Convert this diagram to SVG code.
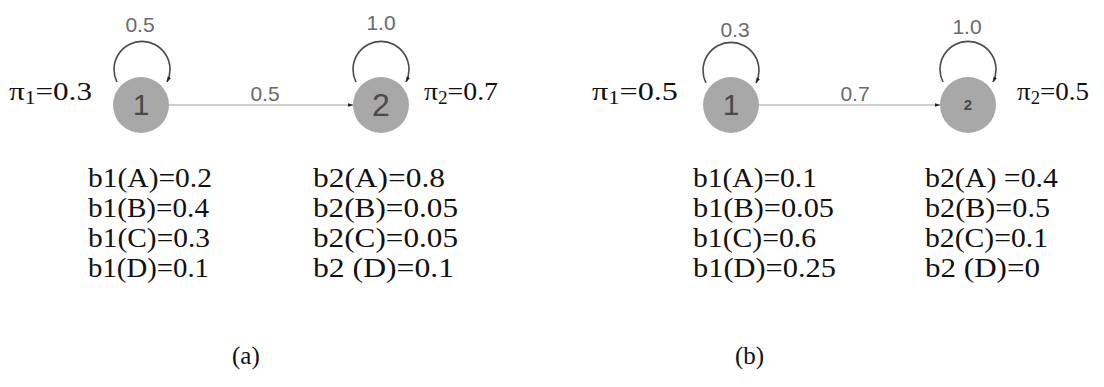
<svg xmlns="http://www.w3.org/2000/svg" width="1104" height="387" viewBox="0 0 1104 387">
<style>
.node{fill:#a8a8a8;}
.nlab{font-family:"Liberation Sans",sans-serif;fill:#4a4a4a;text-anchor:middle;}
.elab{font-family:"Liberation Sans",sans-serif;font-size:21px;fill:#6a6a6a;text-anchor:middle;}
.edge{fill:none;stroke:#cfcfcf;stroke-width:2;}
.loop{fill:none;stroke:#4a4a4a;stroke-width:1.6;}
.pi{font-family:"Liberation Serif",serif;font-size:26px;fill:#111;}
.bt{font-family:"Liberation Serif",serif;font-size:27px;fill:#111;}
.cap{font-family:"Liberation Serif",serif;font-size:25px;fill:#111;}
</style>
<defs>
<marker id="ah" viewBox="0 0 10 10" refX="9" refY="5" markerWidth="6" markerHeight="6" markerUnits="userSpaceOnUse" orient="auto">
<path d="M0,2 L10,5 L0,8 z" fill="#222"/>
</marker>
</defs>
<rect width="1104" height="387" fill="#fff"/>
<g id="connectors">
<path class="edge" d="M169,105 L353,105" marker-end="url(#ah)"/>
<path class="loop" d="M117,82 A28,28 0 1,1 167,82" marker-end="url(#ah)"/>
<path class="loop" d="M356,82 A28,28 0 1,1 406,82" marker-end="url(#ah)"/>
<path class="edge" d="M759,105 L940,105" marker-end="url(#ah)"/>
<path class="loop" d="M706,83 A28,28 0 1,1 756,83" marker-end="url(#ah)"/>
<path class="loop" d="M943,82 A28,28 0 1,1 993,82" marker-end="url(#ah)"/>
<text class="elab" x="140" y="32">0.5</text>
<text class="elab" x="381" y="30">1.0</text>
<text class="elab" x="265" y="101">0.5</text>
<text class="elab" x="735" y="37">0.3</text>
<text class="elab" x="967" y="34">1.0</text>
<text class="elab" x="855" y="101">0.7</text>
</g>
<g id="node-a1">
<circle class="node" cx="141" cy="105" r="28"/>
<text class="nlab" x="141" y="115" font-size="30">1</text>
</g>
<g id="node-a2">
<circle class="node" cx="381" cy="105" r="28"/>
<text class="nlab" x="381" y="116" font-size="32">2</text>
</g>
<g id="node-b1">
<circle class="node" cx="731" cy="105" r="28"/>
<text class="nlab" x="731" y="115" font-size="30">1</text>
</g>
<g id="node-b2">
<circle class="node" cx="968" cy="105" r="28"/>
<text class="nlab" x="968" y="110" font-size="15" font-weight="bold">2</text>
</g>
<g id="labels-a">
<text class="pi" x="9" y="100" textLength="83" lengthAdjust="spacingAndGlyphs">π<tspan font-size="18" dy="4">1</tspan><tspan dy="-4">=0.3</tspan></text>
<text class="pi" x="424" y="100" textLength="74" lengthAdjust="spacingAndGlyphs">π<tspan font-size="18" dy="4">2</tspan><tspan dy="-4">=0.7</tspan></text>
<text class="bt" x="88" y="187" textLength="124" lengthAdjust="spacingAndGlyphs">b1(A)=0.2</text>
<text class="bt" x="88" y="217" textLength="121" lengthAdjust="spacingAndGlyphs">b1(B)=0.4</text>
<text class="bt" x="88" y="247" textLength="122" lengthAdjust="spacingAndGlyphs">b1(C)=0.3</text>
<text class="bt" x="88" y="277" textLength="121" lengthAdjust="spacingAndGlyphs">b1(D)=0.1</text>
<text class="bt" x="313" y="187" textLength="132" lengthAdjust="spacingAndGlyphs">b2(A)=0.8</text>
<text class="bt" x="313" y="217" textLength="145" lengthAdjust="spacingAndGlyphs">b2(B)=0.05</text>
<text class="bt" x="313" y="247" textLength="145" lengthAdjust="spacingAndGlyphs">b2(C)=0.05</text>
<text class="bt" x="313" y="277" textLength="141" lengthAdjust="spacingAndGlyphs">b2 (D)=0.1</text>
<text class="cap" x="232" y="364">(a)</text>
</g>
<g id="labels-b">
<text class="pi" x="592" y="100" textLength="86" lengthAdjust="spacingAndGlyphs">π<tspan font-size="18" dy="4">1</tspan><tspan dy="-4">=0.5</tspan></text>
<text class="pi" x="1017" y="100" textLength="72" lengthAdjust="spacingAndGlyphs">π<tspan font-size="18" dy="4">2</tspan><tspan dy="-4">=0.5</tspan></text>
<text class="bt" x="693" y="187" textLength="124" lengthAdjust="spacingAndGlyphs">b1(A)=0.1</text>
<text class="bt" x="693" y="217" textLength="141" lengthAdjust="spacingAndGlyphs">b1(B)=0.05</text>
<text class="bt" x="693" y="247" textLength="123" lengthAdjust="spacingAndGlyphs">b1(C)=0.6</text>
<text class="bt" x="693" y="277" textLength="143" lengthAdjust="spacingAndGlyphs">b1(D)=0.25</text>
<text class="bt" x="925" y="187" textLength="133" lengthAdjust="spacingAndGlyphs">b2(A) =0.4</text>
<text class="bt" x="925" y="217" textLength="125" lengthAdjust="spacingAndGlyphs">b2(B)=0.5</text>
<text class="bt" x="925" y="247" textLength="123" lengthAdjust="spacingAndGlyphs">b2(C)=0.1</text>
<text class="bt" x="925" y="277" textLength="115" lengthAdjust="spacingAndGlyphs">b2 (D)=0</text>
<text class="cap" x="735" y="364">(b)</text>
</g>
</svg>
